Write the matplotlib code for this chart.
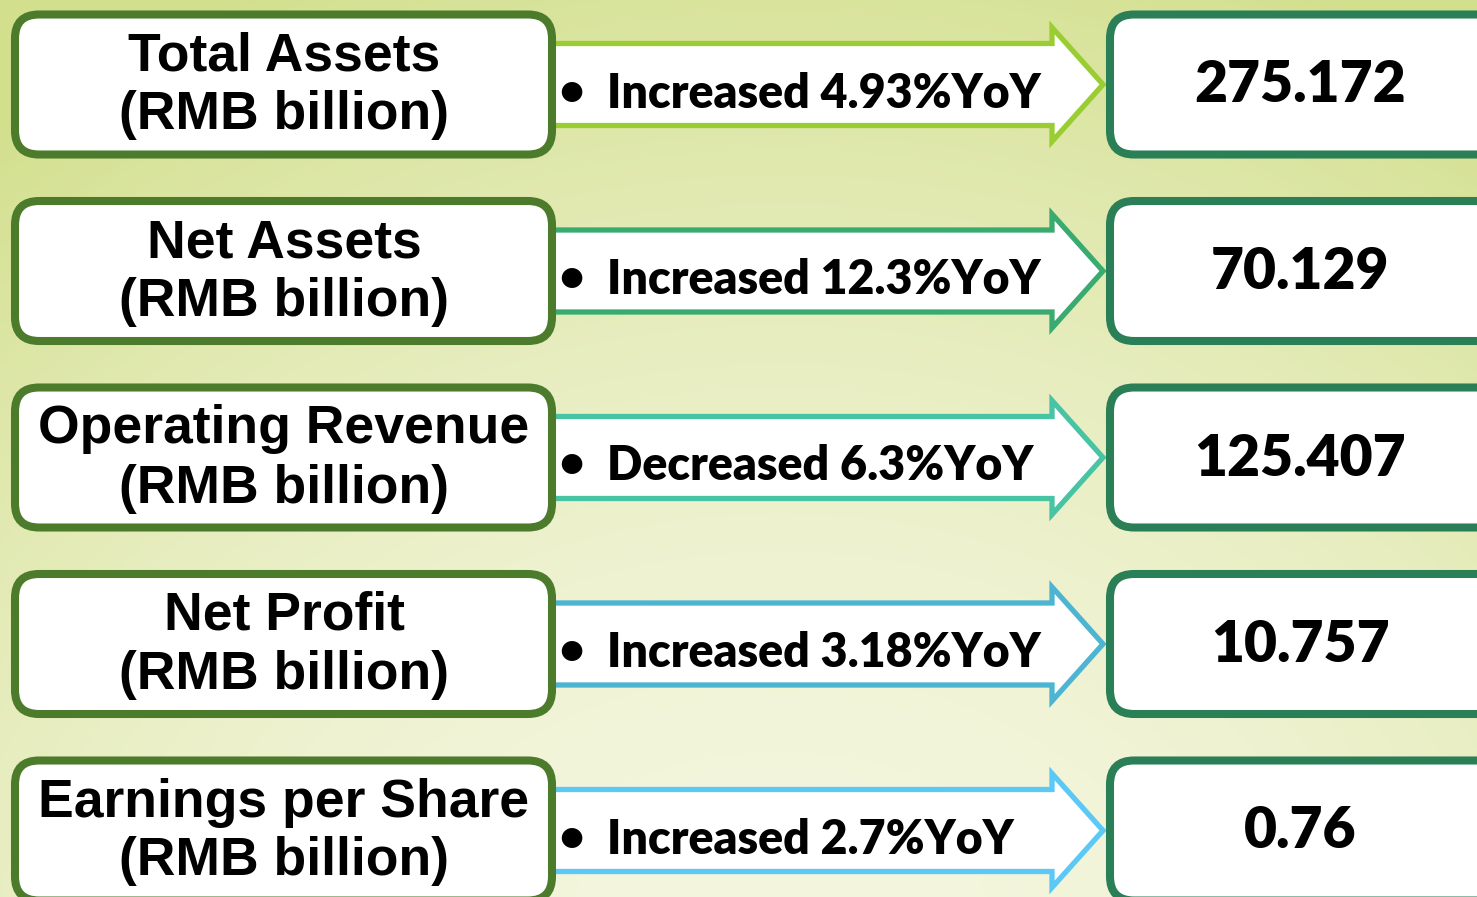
import matplotlib

matplotlib.use("Agg")
import matplotlib.pyplot as plt  # noqa: E402
import numpy as np  # noqa: E402
from matplotlib.colors import to_rgb  # noqa: E402
from matplotlib.patches import FancyBboxPatch, Polygon  # noqa: E402

# data
labels = ["Total Assets", "Net Assets", "Operating Revenue", "Net Profit", "Earnings per Share"]
unit = "(RMB billion)"
changes = [
    "Increased 4.93%YoY",
    "Increased 12.3%YoY",
    "Decreased 6.3%YoY",
    "Increased 3.18%YoY",
    "Increased 2.7%YoY",
]
values = ["275.172", "70.129", "125.407", "10.757", "0.76"]
arrow_colors = ["#9acd32", "#3aab70", "#48c3a4", "#4db4d2", "#5cc8f6"]

W, H = 1477, 897
LEFT_EDGE = "#4b7b2b"
RIGHT_EDGE = "#2a7f56"


def background():
    yy, xx = np.mgrid[0:H, 0:W]
    t = yy / H
    w = 0.8 * (1 - t) ** 1.6 + 0.35 * (np.abs(xx - 780) / 780) ** 2
    w = np.clip(w, 0, 1)[..., None]
    light = np.array(to_rgb("#f4f6de"))
    green = np.array(to_rgb("#d2df8c"))
    return light * (1 - w) + green * w


def main() -> None:
    fig = plt.figure(figsize=(W / 100, H / 100), dpi=100)
    ax = fig.add_axes([0, 0, 1, 1])
    ax.set_xlim(0, W)
    ax.set_ylim(H, 0)
    ax.axis("off")
    ax.imshow(background(), extent=[0, W, H, 0], aspect="auto", zorder=0)

    pitch = 186.5
    for i, (lab, chg, val, col) in enumerate(zip(labels, changes, values, arrow_colors)):
        cy = 84.5 + i * pitch

        # arrow
        top, bot = cy - 41, cy + 41
        htop, hbot = cy - 57, cy + 57
        pts = [(540, top), (1052, top), (1052, htop), (1103, cy),
               (1052, hbot), (1052, bot), (540, bot)]
        ax.add_patch(Polygon(pts, closed=True, facecolor="white", edgecolor=col,
                             linewidth=3.8, joinstyle="miter", zorder=1))

        # left box
        ax.add_patch(FancyBboxPatch((15, cy - 70), 537, 140,
                                    boxstyle="round,pad=0,rounding_size=24",
                                    facecolor="white", edgecolor=LEFT_EDGE,
                                    linewidth=5.8, zorder=2))
        ax.text(284, cy - 28, lab, ha="center", va="center", fontsize=38.5,
                fontweight="bold", family="Liberation Sans", zorder=3)
        ax.text(284, cy + 31, unit, ha="center", va="center", fontsize=38.5,
                fontweight="bold", family="Liberation Sans", zorder=3)

        # right box
        ax.add_patch(FancyBboxPatch((1110, cy - 70), 400, 140,
                                    boxstyle="round,pad=0,rounding_size=24",
                                    facecolor="white", edgecolor=RIGHT_EDGE,
                                    linewidth=5.8, zorder=2))
        ax.text(1300, cy + 1, val, ha="center", va="center", fontsize=41,
                fontweight="heavy", family="Lato", zorder=3)

        # change text
        ax.text(571, cy + 7, "\u2022", ha="center", va="center", fontsize=30,
                fontweight="heavy", family="Lato", zorder=3)
        ax.text(607, cy + 9, chg, ha="left", va="center", fontsize=33.5,
                fontweight="heavy", family="Lato", zorder=3)

    fig.savefig("out.png", dpi=100)
    plt.close(fig)


if __name__ == "__main__":
    main()
